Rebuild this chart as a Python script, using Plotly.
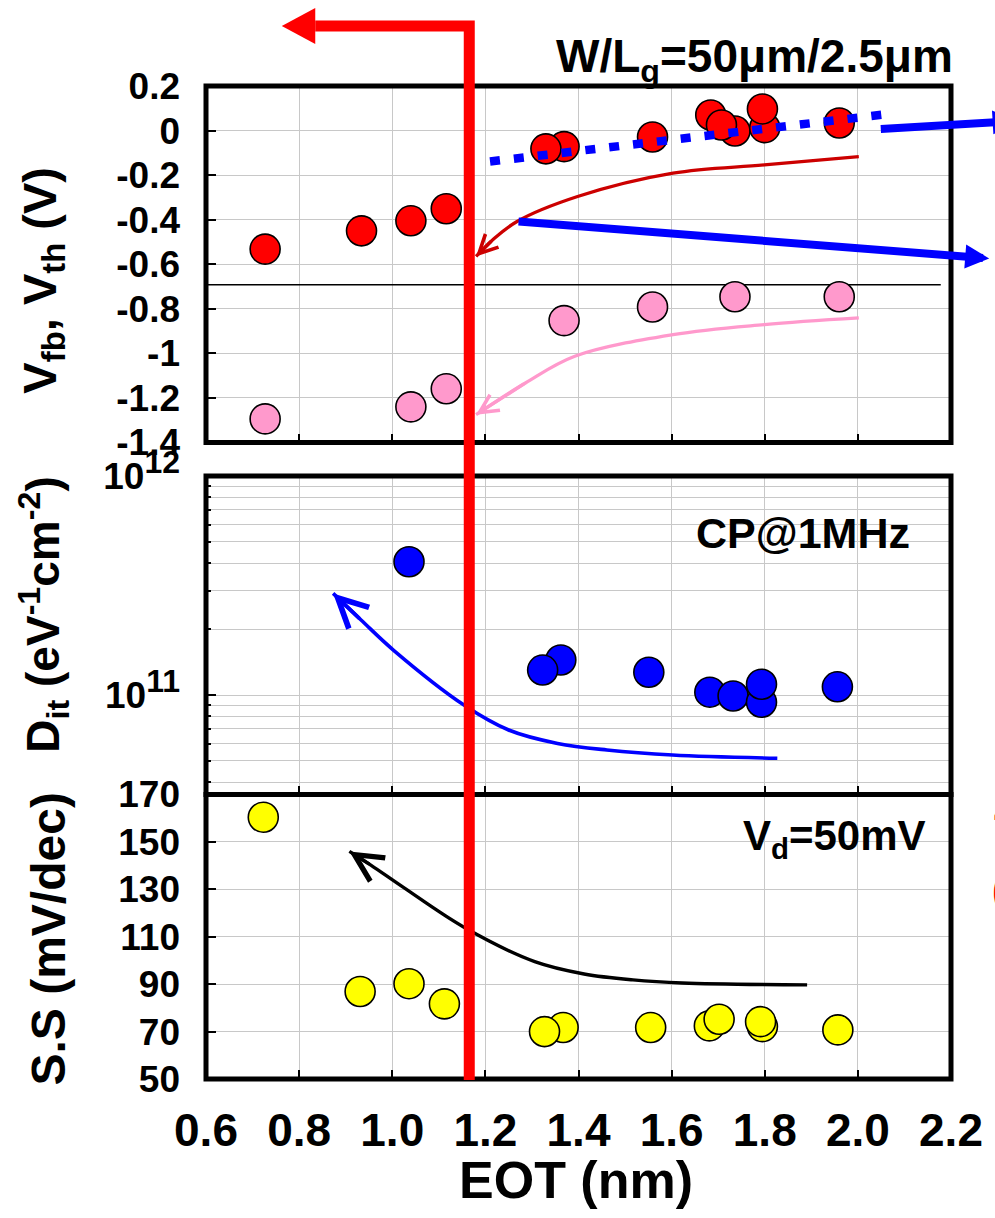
import math
import plotly.graph_objects as go

# ---------------- data ----------------
# Panel 1: flat-band voltage (red) and threshold voltage (pink) vs EOT
eot_vfb = [0.727, 0.934, 1.040, 1.116, 1.369, 1.330, 1.559, 1.684, 1.736, 1.707, 1.800, 1.795, 1.960]
vfb = [-0.532, -0.450, -0.405, -0.351, -0.072, -0.082, -0.029, 0.070, -0.002, 0.025, 0.013, 0.097, 0.034]
eot_vth = [0.727, 1.040, 1.116, 1.369, 1.559, 1.736, 1.960]
vth = [-1.294, -1.240, -1.159, -0.853, -0.792, -0.746, -0.746]
vfb_fit_eot = [1.21, 2.08]
vfb_fit = [-0.139, 0.078]
vref_eot = [0.6, 2.178]
vref_level = [-0.692, -0.692]
vfb_trend_eot = [1.180, 1.216, 1.268, 1.398, 1.603, 1.799, 2.002]
vfb_trend = [-0.565, -0.490, -0.408, -0.296, -0.191, -0.154, -0.117]
vth_trend_eot = [1.180, 1.286, 1.392, 1.603, 1.799, 2.002]
vth_trend = [-1.275, -1.133, -1.013, -0.916, -0.871, -0.841]
# blue pointer arrows (tail, head) in panel-1 data units
arrow_low_eot = [1.268, 2.282]
arrow_low_v = [-0.408, -0.574]
arrow_up_eot = [2.046, 2.341]
arrow_up_v = [0.007, 0.043]

# Panel 2: interface trap density
eot_dit = [1.036, 1.362, 1.323, 1.551, 1.682, 1.732, 1.793, 1.793, 1.956]
dit = [4.06e11, 1.445e11, 1.30e11, 1.27e11, 1.03e11, 9.9e10, 9.27e10, 1.12e11, 1.09e11]
dit_trend_eot = [0.873, 0.933, 1.003, 1.154, 1.250, 1.355, 1.461, 1.602, 1.827]
dit_trend = [2.91e11, 2.20e11, 1.60e11, 9.0e10, 6.92e10, 6.01e10, 5.61e10, 5.32e10, 5.14e10]

# Panel 3: subthreshold swing
eot_ss = [0.723, 0.931, 1.036, 1.112, 1.367, 1.327, 1.555, 1.681, 1.702, 1.795, 1.791, 1.957]
ss = [160.4, 86.9, 90.2, 81.7, 71.7, 70.0, 71.7, 72.4, 75.2, 72.1, 74.2, 70.7]
ss_trend_eot = [0.908, 0.954, 1.024, 1.154, 1.306, 1.412, 1.517, 1.623, 1.891]
ss_trend = [146.0, 140.2, 130.8, 114.0, 99.5, 94.3, 91.8, 90.5, 89.7]

# ticks
x_ticks = [0.6, 0.8, 1.0, 1.2, 1.4, 1.6, 1.8, 2.0, 2.2]
x_ticktext = ["0.6", "0.8", "1.0", "1.2", "1.4", "1.6", "1.8", "2.0", "2.2"]
v_ticks = [0.2, 0, -0.2, -0.4, -0.6, -0.8, -1.0, -1.2, -1.4]
v_ticktext = ["0.2", "0", "-0.2", "-0.4", "-0.6", "-0.8", "-1", "-1.2", "-1.4"]
dit_ticks = [1e11, 1e12]
dit_ticktext = ["10<sup><span style='font-size:32px'>11</span></sup>",
                "10<sup><span style='font-size:32px'>12</span></sup>"]
dit_minor = [4e10, 5e10, 6e10, 7e10, 8e10, 9e10,
             2e11, 3e11, 4e11, 5e11, 6e11, 7e11, 8e11, 9e11]
ss_ticks = [50, 70, 90, 110, 130, 150, 170]

# the red marker line (EOT position)
RED_EOT = 1.1654
RED_ARM_END = 0.8346
RED_TIP = 0.7628

# ---------------- figure ----------------
FONT = "Liberation Sans"
GRID = "#c8c8c8"

fig = go.Figure()

def mk(x, y, color, ax, ay):
    return go.Scatter(x=x, y=y, mode="markers", xaxis=ax, yaxis=ay,
                      marker=dict(size=30, color=color, line=dict(color="black", width=1.6)),
                      hoverinfo="skip")

# panel 1
fig.add_trace(go.Scatter(x=vref_eot, y=vref_level, mode="lines", xaxis="x", yaxis="y",
                         line=dict(color="black", width=1.5)))
fig.add_trace(go.Scatter(x=vfb_trend_eot, y=vfb_trend, mode="lines", xaxis="x", yaxis="y",
                         line=dict(color="#cc0000", width=3.3, shape="spline")))
fig.add_trace(go.Scatter(x=vth_trend_eot, y=vth_trend, mode="lines", xaxis="x", yaxis="y",
                         line=dict(color="#ff99cc", width=3.3, shape="spline")))
fig.add_trace(mk(eot_vth, vth, "#ff99cc", "x", "y"))
fig.add_trace(mk(eot_vfb, vfb, "#ff0000", "x", "y"))
fig.add_trace(go.Scatter(x=vfb_fit_eot, y=vfb_fit, mode="lines", xaxis="x", yaxis="y",
                         line=dict(color="#0000ff", width=8.5, dash="10px,14px")))

# panel 2
fig.add_trace(go.Scatter(x=dit_trend_eot, y=dit_trend, mode="lines", xaxis="x2", yaxis="y2",
                         line=dict(color="#0000ff", width=3.6, shape="spline", smoothing=1.0)))
fig.add_trace(mk(eot_dit, dit, "#0000ff", "x2", "y2"))

# panel 3
fig.add_trace(go.Scatter(x=ss_trend_eot, y=ss_trend, mode="lines", xaxis="x3", yaxis="y3",
                         line=dict(color="black", width=3.4, shape="spline", smoothing=1.0)))
fig.add_trace(mk(eot_ss, ss, "#ffff00", "x3", "y3"))

L, R, T, B = 206, 32, 86, 139
W, H = 995, 1218
PH = H - T - B

def py(px):
    return (H - B - px) / PH

def px_x(px):
    return (px - L) / (W - L - R)

d1 = [py(442.5), 1.0]
d2 = [py(794.5), py(476)]
d3 = [0.0, py(794.5)]

tickfont_y = dict(family=FONT, size=37, color="black", weight="bold")
tickfont_x = dict(family=FONT, size=46, color="black", weight="bold")

def xaxis(anchor, labels):
    return dict(domain=[0, 1], range=[0.6, 2.2], anchor=anchor, tickmode="array",
                tickvals=x_ticks, ticktext=x_ticktext, showticklabels=labels,
                ticks="inside", ticklen=9, tickwidth=2, tickcolor="black",
                showgrid=True, gridcolor=GRID, gridwidth=1, showline=False,
                zeroline=False, tickfont=tickfont_x, ticklabelstandoff=20)

def yaxis(anchor, domain, rng, **kw):
    d = dict(domain=domain, range=rng, anchor=anchor, ticks="inside", ticklen=10,
             tickwidth=2, tickcolor="black", showgrid=True, gridcolor=GRID,
             gridwidth=1, showline=False, zeroline=False, tickfont=tickfont_y,
             ticklabelstandoff=25)
    d.update(kw)
    return d

fig.update_layout(
    width=W, height=H, margin=dict(l=L, r=R, t=T, b=B),
    plot_bgcolor="white", paper_bgcolor="white", showlegend=False,
    xaxis=xaxis("y", False),
    xaxis2=dict(xaxis("y2", False), matches="x"),
    xaxis3=dict(xaxis("y3", True), matches="x"),
    yaxis=yaxis("x", d1, [-1.4, 0.2], tickmode="array", tickvals=v_ticks, ticktext=v_ticktext),
    yaxis2=yaxis("x2", d2, [10.5457, 12.0], type="log", tickmode="array",
                 tickvals=dit_ticks, ticktext=dit_ticktext,
                 minor=dict(tickmode="array", tickvals=dit_minor, ticks="inside",
                            ticklen=5, tickwidth=1.5, tickcolor="black",
                            showgrid=True, gridcolor=GRID, gridwidth=1)),
    yaxis3=yaxis("x3", d3, [50, 170], tickmode="array", tickvals=ss_ticks),
)

shapes = []
for yr in ["y domain", "y2 domain", "y3 domain"]:
    shapes.append(dict(type="rect", xref="paper", yref=yr, x0=0, x1=1, y0=0, y1=1,
                       line=dict(color="black", width=5), layer="above"))
ytop = py(26)
shapes.append(dict(type="path", xref="x", yref="paper", layer="above",
                   path=f"M {RED_EOT},{py(1080)} L {RED_EOT},{ytop} L {RED_ARM_END},{ytop}",
                   line=dict(color="#ff0000", width=11)))
hh = 18 / PH
shapes.append(dict(type="path", xref="x", yref="paper", layer="above",
                   path=f"M {RED_ARM_END},{ytop + hh} L {RED_TIP},{ytop} L {RED_ARM_END},{ytop - hh} Z",
                   fillcolor="#ff0000", line=dict(width=0)))
fig.update_layout(shapes=shapes)

ann = []
def head(xr, yr, x, y, ax, ay, color, size, width=3.3):
    return dict(xref=xr, yref=yr, axref=xr, ayref=yr, x=x, y=y, ax=ax, ay=ay,
                text="", showarrow=True, arrowhead=5, arrowsize=size,
                arrowwidth=width, arrowcolor=color, standoff=0, startstandoff=0)

ann.append(head("x", "y", vfb_trend_eot[0], vfb_trend[0], vfb_trend_eot[1], vfb_trend[1], "#cc0000", 1.1))
ann.append(head("x", "y", vth_trend_eot[0], vth_trend[0], vth_trend_eot[1], vth_trend[1], "#ff99cc", 1.1))
ann.append(head("x2", "y2", dit_trend_eot[0], math.log10(dit_trend[0]),
                dit_trend_eot[1], math.log10(dit_trend[1]), "#0000ff", 1.6, 3.6))
ann.append(head("x3", "y3", ss_trend_eot[0], ss_trend[0], ss_trend_eot[1], ss_trend[1], "black", 1.6, 3.4))

for ex, ev in [(arrow_low_eot, arrow_low_v), (arrow_up_eot, arrow_up_v)]:
    ann.append(dict(xref="x", yref="y", axref="x", ayref="y", x=ex[1], y=ev[1],
                    ax=ex[0], ay=ev[0], text="", showarrow=True, arrowhead=2,
                    arrowsize=0.6, arrowwidth=8, arrowcolor="#0000ff",
                    standoff=0, startstandoff=0))

bold = lambda s, c="black": dict(family=FONT, size=s, color=c, weight="bold")

ann.append(dict(xref="paper", yref="paper", x=px_x(967), y=py(60), xanchor="right",
                yanchor="middle", showarrow=False, text="W/L<sub>g</sub>=50μm/2.5μm",
                font=bold(46)))
ann.append(dict(xref="paper", yref="paper", x=px_x(923), y=py(533), xanchor="right",
                yanchor="middle", showarrow=False, text="CP@1MHz", font=bold(43)))
ann.append(dict(xref="paper", yref="paper", x=px_x(940), y=py(838), xanchor="right",
                yanchor="middle", showarrow=False, text="V<sub>d</sub>=50mV", font=bold(42)))
ann.append(dict(xref="paper", yref="paper", x=px_x(1004), y=py(806), xanchor="left",
                yanchor="middle", showarrow=False, text="Δ", font=bold(40, "#ff0000")))
ann.append(dict(xref="paper", yref="paper", x=px_x(1003), y=py(890), xanchor="left",
                yanchor="middle", showarrow=False, text="(", font=bold(40, "#ff0000")))

ann.append(dict(xref="paper", yref="paper", x=px_x(40), y=py(280), xanchor="center",
                yanchor="middle", showarrow=False, textangle=-90,
                text="V<sub>fb</sub>, V<sub>th</sub> (V)", font=bold(47)))
ann.append(dict(xref="paper", yref="paper", x=px_x(40), y=py(615), xanchor="center",
                yanchor="middle", showarrow=False, textangle=-90,
                text="D<sub>it</sub> (eV<sup>-1</sup>cm<sup>-2</sup>)", font=bold(46)))
ann.append(dict(xref="paper", yref="paper", x=px_x(45), y=py(939), xanchor="center",
                yanchor="middle", showarrow=False, textangle=-90,
                text="S.S (mV/dec)", font=bold(48)))
ann.append(dict(xref="paper", yref="paper", x=px_x(582), y=py(1180), xanchor="center",
                yanchor="middle", showarrow=False, text="EOT (nm)", font=bold(52)))

fig.update_layout(annotations=ann)

fig.write_html("out.html")
